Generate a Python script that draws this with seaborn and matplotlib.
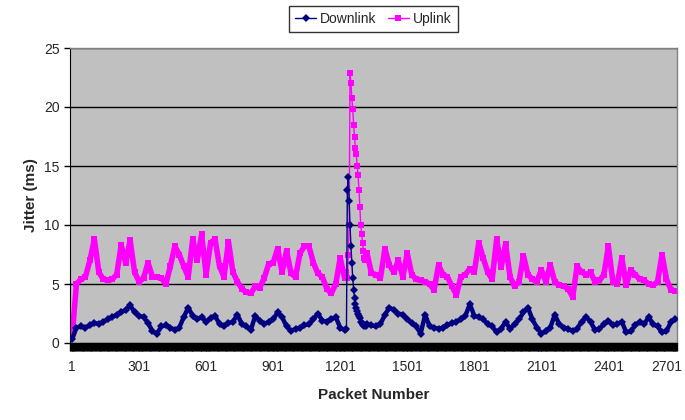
import pandas as pd
import matplotlib
matplotlib.use("Agg")
import matplotlib.pyplot as plt
import matplotlib.transforms as mtransforms
import seaborn as sns
from matplotlib.ticker import MultipleLocator

# packet numbers: every 20th packet, finer steps around the spike
packets = list(range(1, 1222, 20)) + list(range(1229, 1318, 4)) + list(range(1321, 2702, 20))

downlink = [
    0.3, 1.3, 1.4, 1.3, 1.5, 1.7, 1.6, 1.8, 2.0, 2.2, 2.4, 2.6, 2.8, 3.2, 2.6, 2.3,
    2.2, 1.7, 1.0, 0.8, 1.4, 1.5, 1.3, 1.1, 1.3, 2.2, 3.0, 2.3, 2.0, 2.2, 1.8, 2.1,
    2.3, 1.6, 1.4, 1.7, 1.8, 2.4, 1.6, 1.4, 1.1, 2.3, 1.9, 1.6, 1.8, 2.0, 2.6, 2.2,
    1.4, 1.0, 1.2, 1.3, 1.5, 1.6, 2.0, 2.5, 1.9, 1.8, 2.0, 2.2, 1.3, 1.1,
    # spike
    1.2, 13.0, 14.1, 12.0, 10.0, 8.2, 6.8, 5.5, 4.5, 3.8, 3.3, 3.0, 2.7, 2.5, 2.3,
    2.1, 1.8, 1.7, 1.6, 1.5, 1.4, 1.5, 1.4,
    # after spike
    1.6, 1.5, 1.4, 1.6, 2.4, 3.0, 2.8, 2.5, 2.4, 2.0, 1.7, 1.4, 0.8, 2.4, 1.4, 1.3,
    1.2, 1.3, 1.5, 1.7, 1.8, 2.0, 2.3, 3.3, 2.3, 2.2, 2.0, 1.6, 1.4, 0.9, 1.2, 1.8,
    1.2, 1.6, 2.0, 2.6, 3.0, 2.0, 1.3, 0.8, 1.0, 1.3, 2.4, 1.6, 1.3, 1.2, 1.0, 1.2,
    1.8, 2.2, 1.8, 1.1, 1.2, 1.6, 1.9, 1.5, 1.6, 1.8, 0.9, 1.0, 1.5, 1.8, 1.6, 2.2,
    1.6, 1.4, 0.9, 1.0, 1.8, 2.0,
]

uplink = [
    0.5, 5.0, 5.4, 5.6, 7.0, 8.8, 6.0, 5.4, 5.3, 5.4, 5.8, 8.3, 6.8, 8.7, 6.0, 5.2,
    5.5, 6.8, 5.6, 5.6, 5.5, 5.0, 6.5, 8.2, 7.5, 6.5, 5.6, 8.8, 7.0, 9.2, 5.8, 8.5,
    8.8, 6.5, 5.6, 8.6, 6.0, 5.2, 4.6, 4.3, 4.2, 4.8, 4.7, 5.5, 6.7, 6.8, 8.0, 6.0,
    7.8, 5.9, 5.6, 7.6, 8.2, 8.2, 6.8, 5.9, 5.6, 4.6, 4.2, 5.0, 7.2, 5.5,
    # spike
    6.0, 5.5, 7.5, 10.0, 22.9, 22.0, 20.8, 19.8, 18.5, 17.5, 16.5, 16.0, 15.0, 14.2,
    13.0, 11.5, 10.0, 9.2, 8.5, 7.8, 7.2, 7.0, 7.4,
    # after spike
    7.6, 5.9, 5.8, 5.5, 8.0, 6.6, 6.0, 7.0, 5.6, 7.6, 5.8, 5.4, 5.3, 5.2, 5.0, 4.5,
    6.6, 5.8, 5.6, 4.8, 4.1, 5.6, 5.8, 6.3, 6.0, 8.5, 7.2, 6.0, 5.4, 8.8, 6.4, 8.4,
    5.6, 4.8, 5.2, 7.4, 5.8, 5.4, 5.2, 6.2, 5.2, 6.6, 5.2, 4.9, 4.8, 4.6, 3.9, 6.5,
    6.0, 5.8, 6.0, 5.2, 5.3, 5.8, 8.2, 5.2, 5.0, 7.2, 4.9, 6.2, 5.8, 5.4, 5.3, 5.0,
    4.9, 5.2, 7.5, 5.4, 4.5, 4.4,
]

df = pd.DataFrame({"Packet": packets, "Downlink": downlink, "Uplink": uplink})
calm_before = df[df["Packet"] <= 1229]
calm_after = df[df["Packet"] >= 1317]

sns.set_style("white")
plt.rcParams["font.family"] = ["Liberation Sans", "DejaVu Sans"]

fig = plt.figure(figsize=(6.85, 4.2), dpi=100)
ax = fig.add_axes([70 / 685, 77 / 420, 607 / 685, 295 / 420])
ax.set_facecolor("#C0C0C0")

colors = {"Downlink": "#000080", "Uplink": "#FF00FF"}
markers = {"Downlink": "D", "Uplink": "s"}
sizes = {"Downlink": 4, "Uplink": 4.5}
widths = {"Downlink": 3.2, "Uplink": 4.0}
order = {"Downlink": 3, "Uplink": 2}

for name in ["Downlink", "Uplink"]:
    # dense packets make a thick band outside the spike
    for part in [calm_before, calm_after]:
        sns.lineplot(data=part, x="Packet", y=name, ax=ax, color=colors[name],
                     linewidth=widths[name], zorder=order[name], legend=False)
    sns.lineplot(data=df, x="Packet", y=name, ax=ax, color=colors[name],
                 marker=markers[name], markersize=sizes[name], markeredgewidth=0,
                 linewidth=1, label=name, zorder=order[name])

ax.set_xlim(-8, 2708)
ax.set_ylim(0, 25)
ax.set_yticks([0, 5, 10, 15, 20, 25])
ax.set_xticks(list(range(1, 2702, 300)))
ax.xaxis.set_minor_locator(MultipleLocator(4))
ax.yaxis.grid(True, color="black", linewidth=1)
ax.set_axisbelow(True)

ax.tick_params(axis="x", which="both", direction="out", length=6, width=1,
               color="black", bottom=True, labelsize=10, pad=6)
ax.tick_params(axis="y", direction="out", length=4, width=1, color="black",
               left=True, labelsize=10)

# keep the last tick label inside the picture
last = ax.get_xticklabels()[-1]
last.set_transform(last.get_transform() +
                   mtransforms.ScaledTranslation(-6 / 72, 0, fig.dpi_scale_trans))

for side in ["top", "right"]:
    ax.spines[side].set_color("#808080")
    ax.spines[side].set_linewidth(1)
ax.spines["left"].set_color("black")
ax.spines["bottom"].set_color("black")

ax.set_xlabel("Packet Number", fontsize=11, fontweight="bold", labelpad=10)
ax.set_ylabel("Jitter (ms)", fontsize=11, fontweight="bold", labelpad=4)

leg = ax.legend(loc="lower center", bbox_to_anchor=(0.5, 1.03), ncol=2,
                frameon=True, fontsize=10, handlelength=1.5, handletextpad=0.3,
                columnspacing=0.8, borderpad=0.45, fancybox=False)
leg.get_frame().set_edgecolor("black")
leg.get_frame().set_linewidth(1)

fig.savefig("out.png", dpi=100)
